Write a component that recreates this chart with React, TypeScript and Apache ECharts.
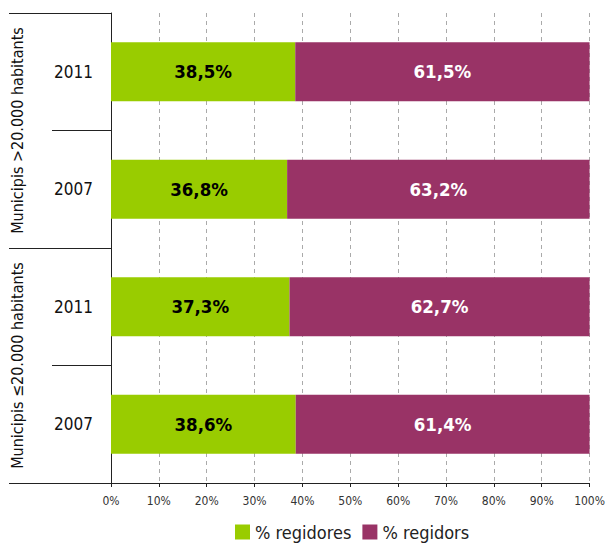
import React, { useEffect, useRef } from "react";
import * as echarts from "echarts";

const years = ["2011", "2007", "2011", "2007"];
const groups = ["Municipis >20.000 habitants", "Municipis ≤20.000 habitants"];
const seriesNames = ["% regidores", "% regidors"];
const regidores = [38.5, 36.8, 37.3, 38.6];
const regidors = [61.5, 63.2, 62.7, 61.4];

const FONT = "'Liberation Sans Narrow', 'DejaVu Sans Condensed', 'Arial Narrow', sans-serif";
const fmt = (v: number) => v.toFixed(1).replace(".", ",") + "%";

export default function App() {
  const ref = useRef<HTMLDivElement>(null);
  useEffect(() => {
    if (!ref.current) return;
    const chart = echarts.init(ref.current, null, { renderer: "svg" });
    chart.setOption({
      animation: false,
      textStyle: { fontFamily: FONT },
      grid: { left: 111, right: 15, top: 13, bottom: 64, containLabel: false },
      legend: {
        data: seriesNames,
        bottom: 1,
        left: 230,
        itemWidth: 15,
        itemHeight: 15,
        itemGap: 11,
        icon: "rect",
        textStyle: { fontFamily: FONT, fontSize: 18, color: "#222" },
      },
      xAxis: {
        type: "value",
        min: 0,
        max: 100,
        interval: 10,
        axisLine: { show: true, lineStyle: { color: "#222", width: 1 } },
        axisTick: { show: true, length: 4, lineStyle: { color: "#222" } },
        axisLabel: {
          formatter: "{value}%",
          fontFamily: FONT,
          fontSize: 12,
          color: "#333",
          margin: 12,
        },
        splitLine: { show: true, lineStyle: { color: "#aaa", type: [4, 4] } },
      },
      yAxis: [
        {
          type: "category",
          data: years,
          inverse: true,
          position: "left",
          axisLine: { show: true, lineStyle: { color: "#222" } },
          axisTick: { show: true, interval: 0, length: 59, lineStyle: { color: "#222" } },
          axisLabel: { interval: 0, fontFamily: FONT, fontSize: 17, color: "#111", margin: 18 },
        },
        {
          type: "category",
          data: groups,
          inverse: true,
          position: "left",
          axisLine: { show: false },
          axisTick: { show: true, interval: 0, length: 102, lineStyle: { color: "#222" } },
          axisLabel: {
            interval: 0,
            hideOverlap: false,
            fontFamily: FONT,
            fontSize: 16,
            color: "#111",
            rotate: 90,
            margin: 86,
          },
        },
      ],
      series: [
        {
          name: seriesNames[0],
          type: "bar",
          stack: "total",
          barWidth: 59,
          yAxisIndex: 0,
          data: regidores,
          itemStyle: { color: "#99CC00" },
          label: {
            show: true,
            position: "inside",
            formatter: (p: any) => fmt(p.value),
            fontFamily: FONT,
            fontSize: 18.5,
            fontWeight: "bold",
            color: "#000",
          },
        },
        {
          name: seriesNames[1],
          type: "bar",
          stack: "total",
          barWidth: 59,
          yAxisIndex: 0,
          data: regidors,
          itemStyle: { color: "#993366" },
          label: {
            show: true,
            position: "inside",
            formatter: (p: any) => fmt(p.value),
            fontFamily: FONT,
            fontSize: 18.5,
            fontWeight: "bold",
            color: "#fff",
          },
        },
      ],
    });
    return () => chart.dispose();
  }, []);
  return <div ref={ref} style={{ width: 608, height: 547, position: "absolute", left: 0, top: 0 }} />;
}
